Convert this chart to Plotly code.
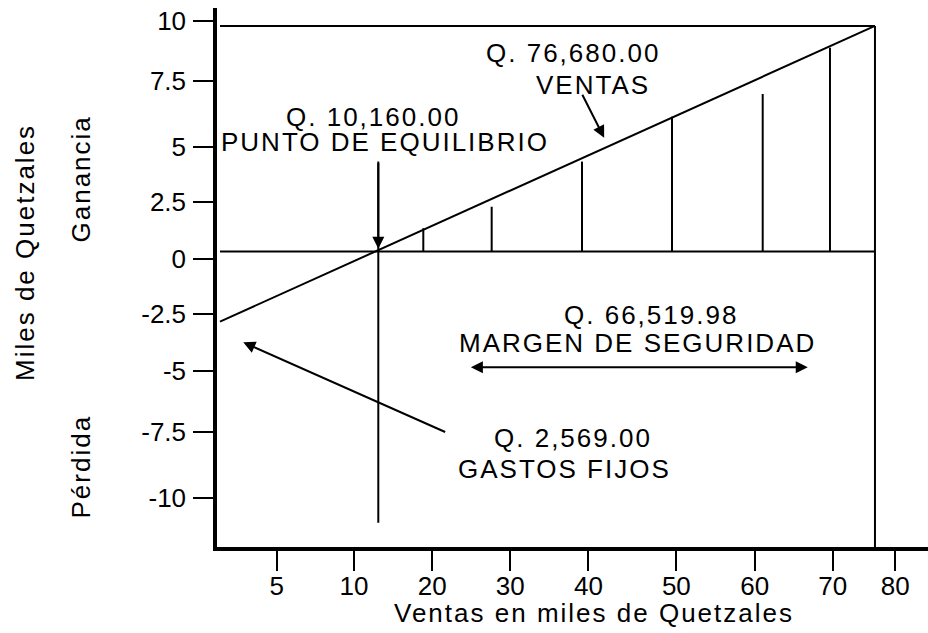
import plotly.graph_objects as go

# ---------------- data (miles de Quetzales, chart units) ----------------
x_tick_labels = ['5', '10', '20', '30', '40', '50', '60', '70', '80']
y_tick_labels = ['10', '7.5', '5', '2.5', '0', '-2.5', '-5', '-7.5', '-10']

ventas_x = [-7.15, 76.68]          # linea de ventas
ventas_y = [-2.6, 9.78]
nivel_equilibrio = 0.33            # linea horizontal (gastos cubiertos)
nivel_superior = 9.78              # linea superior
ventas_total = 76.68               # Q. 76,680.00
punto_equilibrio_x = 13.11         # punto de equilibrio sobre el eje
equilibrio_linea_y = [4.10, -11.02]
marcas_x = [18.87, 27.62, 39.18, 50.70, 62.31, 70.92]
marcas_top = [1.31, 2.21, 4.10, 5.98, 6.93, 8.87]

# ---------------- layout helpers ----------------
x_tick_pos = [0.11, 10, 20, 30, 40, 51.26, 61.28, 71.26, 79.28]
y_tick_pos = [10.0, 7.49, 4.72, 2.40, 0.02, -2.28, -4.66, -7.24, -10.0]

W, H = 928, 633
ML, MR, MT, MB = 217, 0, 8, 86
PX_PER_X = 7.813
PX_PER_Y = 23.88
x0 = 10 + (ML - 354) / PX_PER_X
x1 = 10 + (W - MR - 354) / PX_PER_X
y1 = (259.5 - MT) / PX_PER_Y
y0 = (259.5 - (H - MB)) / PX_PER_Y

FONT = "Liberation Sans, Arial, sans-serif"
LINE = dict(color='black', width=2)


def sp(t):
    return '<span style="letter-spacing:2px">' + t + '</span>'


fig = go.Figure()

# sales line
fig.add_trace(go.Scatter(x=ventas_x, y=ventas_y, mode='lines', line=LINE,
                         hoverinfo='skip', showlegend=False))
# horizontal lines
fig.add_trace(go.Scatter(x=[ventas_x[0], ventas_total], y=[nivel_equilibrio, nivel_equilibrio],
                         mode='lines', line=LINE, hoverinfo='skip', showlegend=False))
fig.add_trace(go.Scatter(x=[ventas_x[0], ventas_total], y=[nivel_superior, nivel_superior],
                         mode='lines', line=LINE, hoverinfo='skip', showlegend=False))
# right vertical (total sales)
fig.add_trace(go.Scatter(x=[ventas_total, ventas_total], y=[nivel_superior, y0],
                         mode='lines', line=LINE, hoverinfo='skip', showlegend=False))
# break-even vertical
fig.add_trace(go.Scatter(x=[punto_equilibrio_x, punto_equilibrio_x], y=equilibrio_linea_y,
                         mode='lines', line=LINE, hoverinfo='skip', showlegend=False))
# hatch verticals
hx, hy = [], []
for xv, tv in zip(marcas_x, marcas_top):
    hx += [xv, xv, None]
    hy += [nivel_equilibrio, tv, None]
fig.add_trace(go.Scatter(x=hx, y=hy, mode='lines', line=LINE,
                         hoverinfo='skip', showlegend=False))

ann = []


def arrow(tx, ty, hx_, hy_, both=False):
    ann.append(dict(x=hx_, y=hy_, ax=tx, ay=ty, xref='x', yref='y', axref='x', ayref='y',
                    text='', showarrow=True, arrowhead=2, arrowsize=1.2, arrowwidth=2,
                    arrowcolor='black', startarrowhead=2, startarrowsize=1.2,
                    arrowside='end+start' if both else 'end', standoff=0, startstandoff=0))


arrow(39.13, 6.96, 42.02, 5.10)
arrow(punto_equilibrio_x, 4.10, punto_equilibrio_x, 0.45)
arrow(21.86, -7.25, -4.17, -3.47)
arrow(24.77, -4.51, 68.08, -4.51, both=True)


def label(t, xv, yv):
    ann.append(dict(x=xv, y=yv, xref='x', yref='y', text=sp(t), showarrow=False,
                    xanchor='center', yanchor='middle',
                    font=dict(family=FONT, size=26, color='black')))


label('Q. 76,680.00', 37.98, 8.65)
label('VENTAS', 40.53, 7.31)
label('Q. 10,160.00', 12.41, 5.97)
label('PUNTO DE EQUILIBRIO', 13.97, 4.90)
label('Q. 66,519.98', 48.01, -2.32)
label('MARGEN DE SEGURIDAD', 46.28, -3.50)
label('Q. 2,569.00', 38.08, -7.47)
label('GASTOS FIJOS', 36.88, -8.77)

# axis titles
ann.append(dict(x=40.68, y=-0.1224, xref='x', yref='paper', text=sp('Ventas en miles de Quetzales'),
                showarrow=False, xanchor='center', yanchor='middle',
                font=dict(family=FONT, size=26, color='black')))
for t, px, py in [('Miles de Quetzales', 25, 253), ('Ganancia', 80, 179.5), ('Pérdida', 80, 466.5)]:
    ann.append(dict(x=(px - ML) / (W - ML - MR), y=(H - MB - py) / (H - MB - MT),
                    xref='paper', yref='paper', text=sp(t), textangle=-90, showarrow=False,
                    xanchor='center', yanchor='middle',
                    font=dict(family=FONT, size=26, color='black')))

fig.update_layout(
    width=W, height=H,
    margin=dict(l=ML, r=MR, t=MT, b=MB, pad=0),
    paper_bgcolor='white', plot_bgcolor='white',
    showlegend=False,
    annotations=ann,
    xaxis=dict(range=[x0, x1], showgrid=False, zeroline=False, showline=True,
               linecolor='black', linewidth=3.5, ticks='outside', ticklen=20, tickwidth=2,
               tickcolor='black', tickvals=x_tick_pos, ticktext=x_tick_labels,
               tickfont=dict(family=FONT, size=26, color='black'), ticklabelstandoff=-7,
               fixedrange=True),
    yaxis=dict(range=[y0, y1], showgrid=False, zeroline=False, showline=True,
               linecolor='black', linewidth=3.5, ticks='outside', ticklen=20, tickwidth=2,
               tickcolor='black', tickvals=y_tick_pos, ticktext=y_tick_labels,
               tickfont=dict(family=FONT, size=26, color='black'), ticklabelstandoff=2,
               fixedrange=True),
)

fig.write_html("out.html", config={'displayModeBar': False},
               post_script="document.body.style.margin='0';document.body.style.overflow='hidden';")
